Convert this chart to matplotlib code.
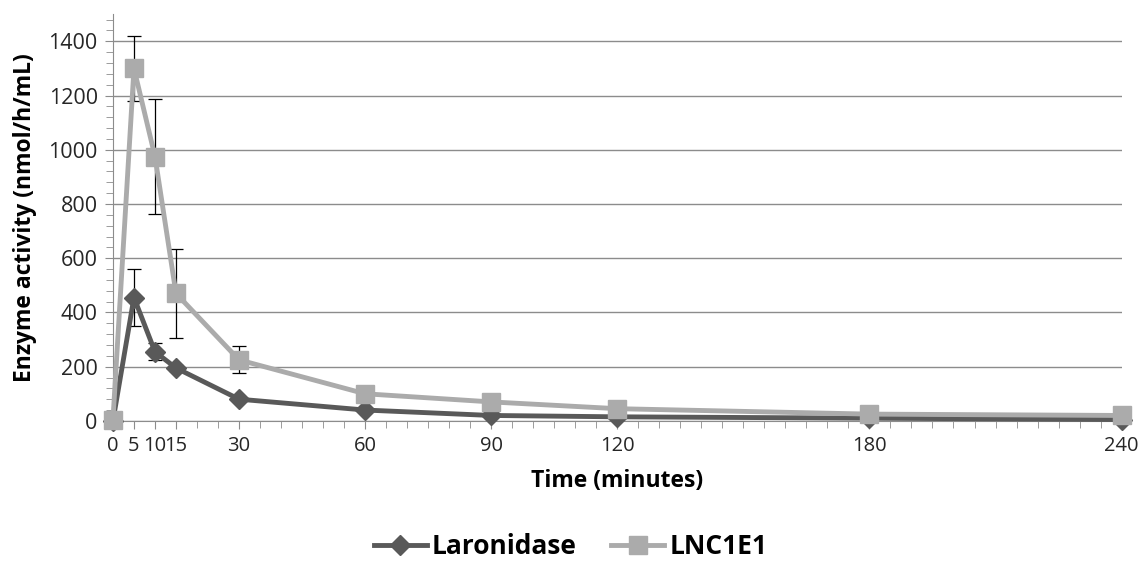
import matplotlib
matplotlib.use('Agg')
import matplotlib.pyplot as plt
from matplotlib.ticker import MultipleLocator

# data
time = [0, 5, 10, 15, 30, 60, 90, 120, 180, 240]
laronidase = [0, 455, 255, 195, 80, 40, 20, 15, 10, 5]
laronidase_err = [0, 105, 32, 12, 0, 0, 0, 0, 0, 0]
lnc1e1 = [5, 1300, 975, 470, 225, 100, 70, 45, 25, 20]
lnc1e1_err = [0, 120, 212, 165, 50, 0, 0, 0, 0, 0]
tick_labels = ['0', '5', '10', '15', '30', '60', '90', '120', '180', '240']

plt.rcParams['font.family'] = ['Open Sans', 'DejaVu Sans']

fig = plt.figure(figsize=(11.41, 5.68), dpi=100)
ax = fig.add_axes([0.099, 0.259, 0.884, 0.716])

dark = '#595959'
light = '#ababab'

# error bars (black, behind markers)
for y, e in [(laronidase, laronidase_err), (lnc1e1, lnc1e1_err)]:
    xs = [t for t, v in zip(time, e) if v > 0]
    ys = [a for a, v in zip(y, e) if v > 0]
    es = [v for v in e if v > 0]
    ax.errorbar(xs, ys, yerr=es, fmt='none', ecolor='black', elinewidth=0.9,
                capsize=5, capthick=0.9, zorder=2)

ax.plot(time, laronidase, color=dark, lw=3.5, marker='D', ms=10,
        label='Laronidase', zorder=3, clip_on=False)
ax.plot(time, lnc1e1, color=light, lw=3.5, marker='s', ms=13,
        label='LNC1E1', zorder=4, clip_on=False)

ax.set_xlim(0, 240)
ax.set_ylim(0, 1500)
ax.set_yticks(range(0, 1401, 200))
ax.yaxis.set_minor_locator(MultipleLocator(40))
ax.set_xticks(time)
ax.set_xticklabels(tick_labels)
ax.xaxis.set_minor_locator(MultipleLocator(5))

ax.grid(axis='y', which='major', color='#8c8c8c', lw=1)
ax.set_axisbelow(True)
for s in ['top', 'right']:
    ax.spines[s].set_visible(False)
for s in ['left', 'bottom']:
    ax.spines[s].set_color('#8c8c8c')

ax.tick_params(axis='both', which='major', labelsize=15.5, color='#8c8c8c',
               length=6, direction='out', labelcolor='#262626', pad=5)
ax.tick_params(axis='x', which='major', labelsize=14.5)
ax.tick_params(axis='both', which='minor', color='#8c8c8c', length=5)

ax.set_xlabel('Time (minutes)', fontsize=16.5, fontweight='bold', labelpad=9)
ax.set_ylabel('Enzyme activity (nmol/h/mL)', fontsize=16.5, fontweight='bold',
              labelpad=8)

fig.legend(loc='center', bbox_to_anchor=(0.5, 0.037), ncol=2, frameon=False,
           prop={'size': 19, 'weight': 'bold'}, handlelength=2.0,
           columnspacing=1.3, handletextpad=0.2)

plt.savefig('out.png', dpi=100)
